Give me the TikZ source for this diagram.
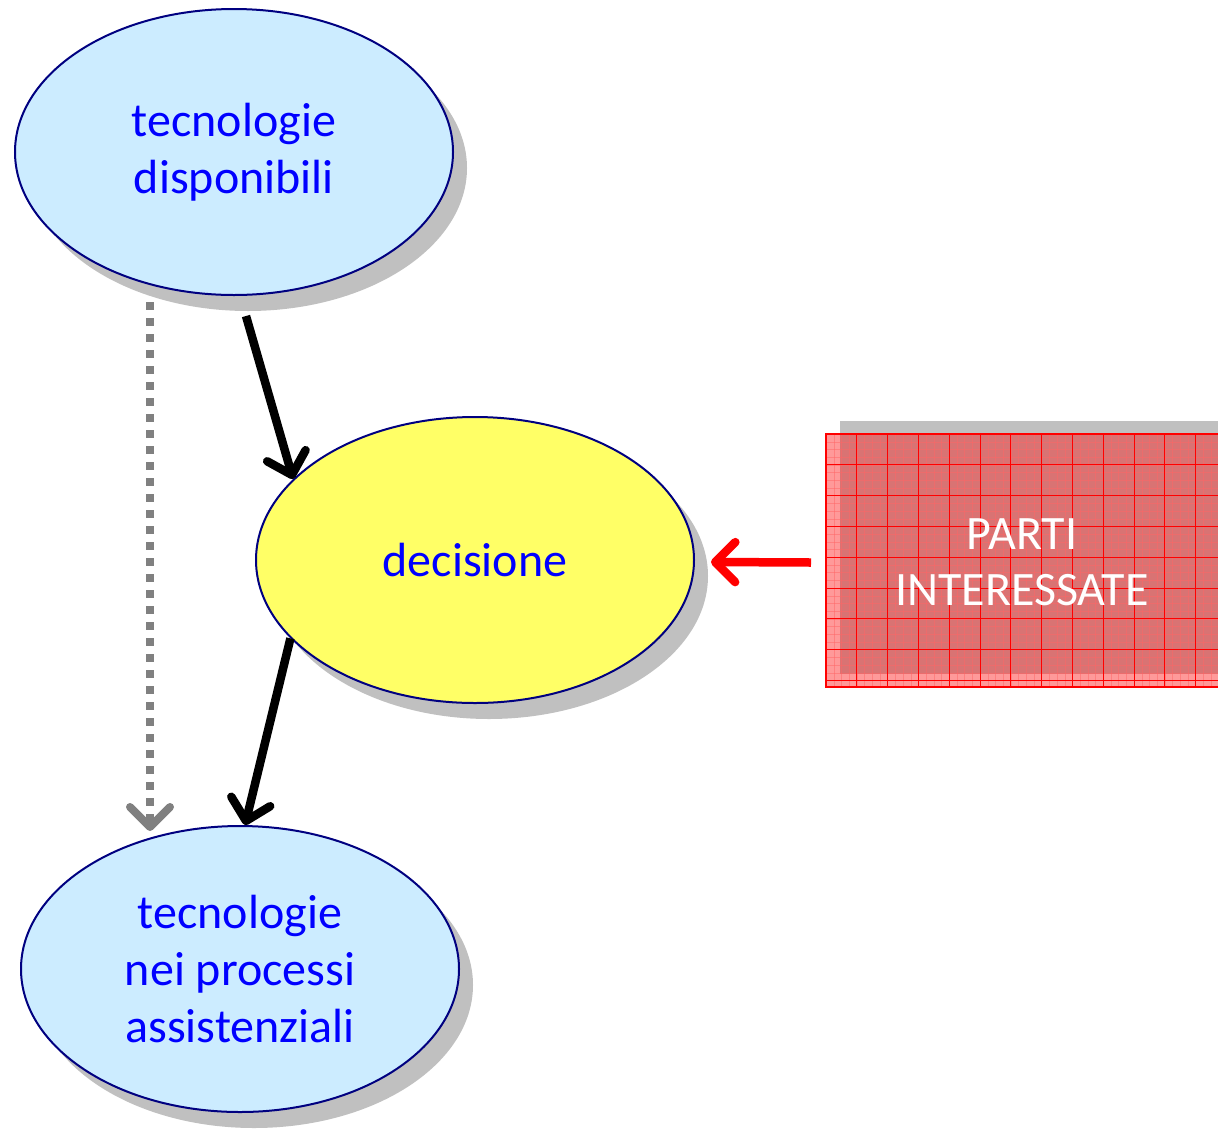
\documentclass[tikz,border=0pt]{standalone}
\usepackage{fontspec}
\setmainfont{Carlito}
\usetikzlibrary{shapes.geometric,shadows,arrows.meta,calc}
\definecolor{lblue}{RGB}{204,236,255}
\definecolor{lyellow}{RGB}{255,255,102}
\definecolor{navyb}{RGB}{0,0,128}
\definecolor{shadowgray}{RGB}{192,192,192}
\definecolor{txtblue}{RGB}{0,0,255}
\definecolor{dotgray}{RGB}{128,128,128}
\begin{document}
\begin{tikzpicture}[x=1pt,y=-1pt,
  ell/.style={ellipse, draw=navyb, line width=2pt, minimum width=438pt, minimum height=286pt,
    inner sep=0pt, align=center, text=txtblue, font=\fontsize{48}{57}\selectfont,
    drop shadow={shadow xshift=14pt, shadow yshift=-16pt, fill=shadowgray, opacity=1}},
  tip/.style={-{Straight Barb[length=20pt,width=40pt,line cap=round,line join=round]}},
  blackarrow/.style={draw=black, line width=8.5pt, tip},
  grayarrow/.style={draw=dotgray, line width=8pt, dash pattern=on 8pt off 8pt, tip},
  redarrow/.style={draw=red, line width=8.5pt, tip},
  partbox/.style={rectangle, draw=red, line width=2pt, fill=red, fill opacity=0.4,
    minimum width=394pt, minimum height=253pt, inner sep=0pt},
  parttext/.style={align=center, text=white, font=\fontsize{48}{56}\selectfont, inner sep=0pt}
]
\useasboundingbox (0,0) rectangle (1218,1128);

\node[ell, fill=lblue] (e1) at (234,152) {tecnologie\\disponibili};
\node[ell, fill=lyellow] (e2) at (475,560) {decisione};
\node[ell, fill=lblue] (e3) at (240,969) {tecnologie\\nei processi\\assistenziali};

\begin{scope}
  \clip (0,0) rectangle (1218,1128);
  \fill[shadowgray] (840,421) rectangle (1240,674);
  \node[partbox] (pi) at (1023,560.5) {};
  \begin{scope}
    \clip (826,434) rectangle (1220,687);
    \foreach \i in {1,...,52} {
      \draw[red!60, line width=0.25pt, draw opacity=0.5] ({826+7.7*\i},434) -- ({826+7.7*\i},687);
    }
    \foreach \j in {1,...,32} {
      \draw[red!60, line width=0.25pt, draw opacity=0.5] (826,{434+7.7*\j}) -- (1220,{434+7.7*\j});
    }
    \foreach \i in {1,...,13} {
      \draw[red, line width=1pt] ({826+30.8*\i},434) -- ({826+30.8*\i},687);
    }
    \foreach \j in {1,...,8} {
      \draw[red, line width=1pt] (826,{434+30.8*\j}) -- (1220,{434+30.8*\j});
    }
  \end{scope}
  \draw[red, line width=2pt] (826,434) rectangle (1220,687);
  \node[parttext] (pt) at (1022,562) {PARTI\\INTERESSATE};
\end{scope}

\draw[blackarrow] ($(e1.south)+(12,20)$) -- (e2.156);
\draw[blackarrow] (e2.203) -- (e3.88);
\draw[grayarrow] ($(e1.south)+(-84,6)$) -- ($(e3.north)+(-90,6)$);
\draw[redarrow] ($(pi.west)+(-14,2)$) -- ($(e2.east)+(16,2)$);
\end{tikzpicture}
\end{document}
